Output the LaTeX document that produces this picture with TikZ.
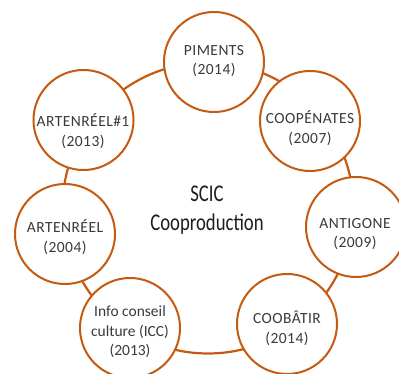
\documentclass[tikz,border=0pt]{standalone}
\usepackage{fontspec}
\setmainfont{Carlito}
\newfontfamily\capsfont[LetterSpace=3]{Carlito}
\definecolor{ringorange}{HTML}{C55A11}
\definecolor{txtgray}{HTML}{3A3A3A}
\definecolor{ctrtxt}{HTML}{1E1E1E}
\tikzset{
  ringnode/.style={circle, draw=ringorange, line width=2pt, fill=white, minimum size=100pt, inner sep=0pt},
  ringtxt/.style={align=center, text=txtgray, inner sep=0pt, font=\capsfont\fontsize{15.5}{19.5}\selectfont},
  ringtxtlow/.style={align=center, text=txtgray, inner sep=0pt, font=\fontsize{15.5}{19.5}\selectfont},
  ctrline/.style={anchor=base, inner sep=0pt, text=ctrtxt, font=\fontsize{24}{29}\selectfont},
  ringline/.style={draw=ringorange, line width=2.2pt}
}
\begin{document}
\begin{tikzpicture}[x=1pt,y=-1pt]
\clip (0,0) rectangle (399,374);
\fill[white] (0,0) rectangle (399,374);
\coordinate (ctr) at (208,208);
\draw[ringline] (ctr) circle[radius=145.5pt];
% circles
\node[ringnode] (p)  at (214,62)  {};
\node[ringnode] (c)  at (310,121) {};
\node[ringnode] (a)  at (356,227) {};
\node[ringnode] (b)  at (287,324) {};
\node[ringnode] (i)  at (130,328) {};
\node[ringnode] (r)  at (65,234)  {};
\node[ringnode] (r1) at (83.5,120) {};
% texts
\node[ringtxt] (pt)  at (214,61)  {PIMENTS\\(2014)};
\node[ringtxt] (ct)  at (310,128) {COOPÉNATES\\(2007)};
\node[ringtxt] (at)  at (355,234) {ANTIGONE\\(2009)};
\node[ringtxt] (bt)  at (287,328) {COOBÂTIR\\(2014)};
\node[ringtxtlow] (it)  at (130,332) {Info conseil\\culture (ICC)\\(2013)};
\node[ringtxt] (rt)  at (65,237)  {ARTENRÉEL\\(2004)};
\node[ringtxt] (r1t) at (83,131)  {ARTENRÉEL\#1\\(2013)};
% centre
\node[ctrline] (s1) at (207,201.7) {\scalebox{0.78}[1]{SCIC}};
\node[ctrline] (s2) at (207,231) {\scalebox{0.78}[1]{Cooproduction}};
\end{tikzpicture}
\end{document}
